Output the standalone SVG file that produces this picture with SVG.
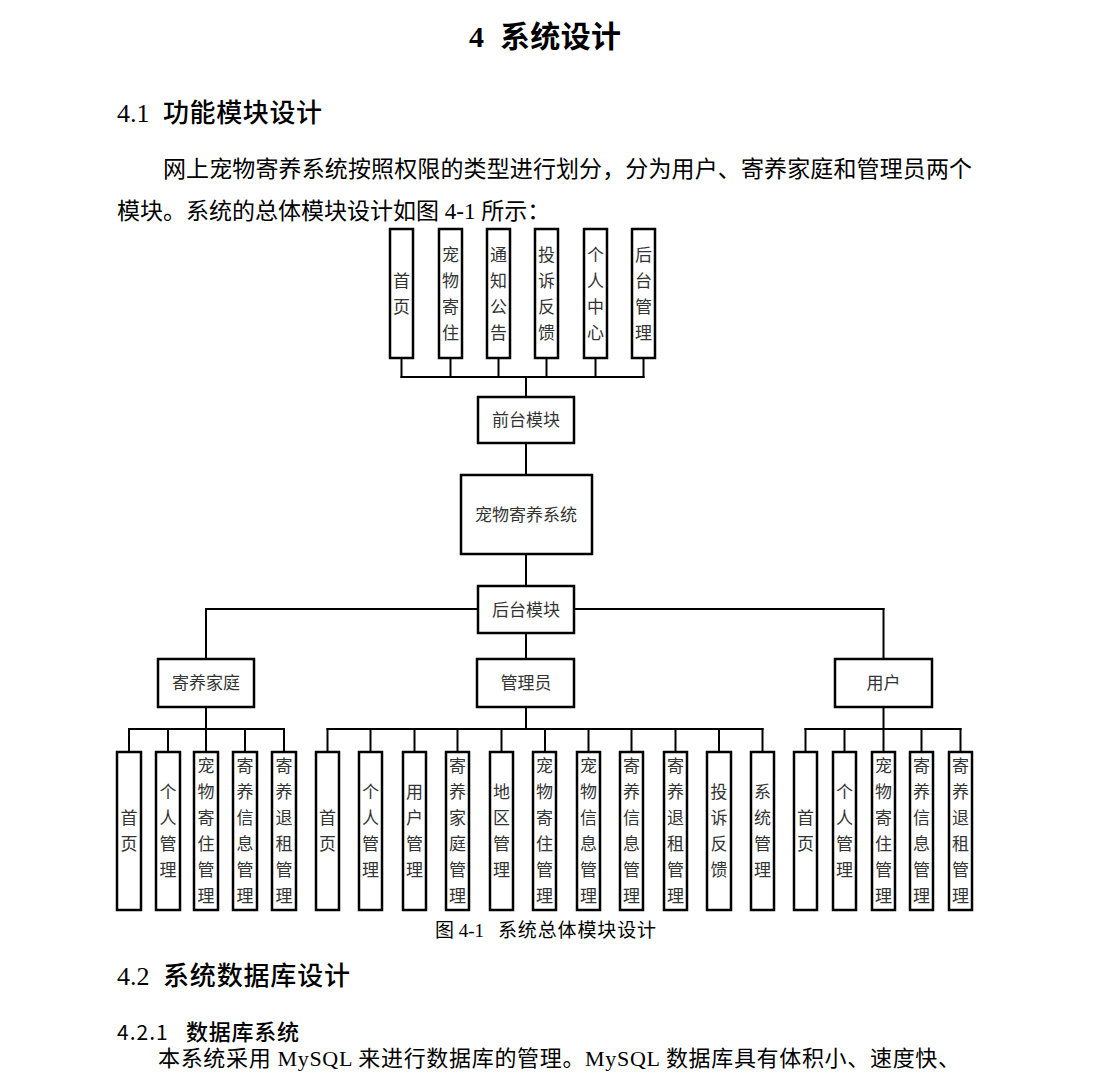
<svg xmlns="http://www.w3.org/2000/svg" width="1094" height="1084" viewBox="0 0 1094 1084">
<style>
.box{fill:#fff;stroke:#000;stroke-width:2.5}
.lbl{font-family:"Noto Sans CJK SC","Noto Sans",sans-serif;font-size:17px;fill:#333;text-anchor:middle}
.conn line{stroke:#000;stroke-width:2;stroke-linecap:square}
.doc{font-family:"Liberation Serif","Noto Sans CJK SC",serif;fill:#000}
.hei{font-family:"Noto Sans CJK SC",sans-serif;fill:#000}
</style>
<rect width="1094" height="1084" fill="#fff"/>

<!-- document text -->
<g id="doc-text">
<text class="doc" x="469" y="47" font-size="30" font-weight="bold">4</text>
<text class="hei" x="500" y="47" font-size="30" font-weight="bold" textLength="121">系统设计</text>
<text class="doc" x="117" y="122" font-size="26">4.1</text>
<text class="hei" x="163" y="122" font-size="26" font-weight="500" textLength="159">功能模块设计</text>
<text class="doc" x="163" y="177" font-size="23" textLength="809">网上宠物寄养系统按照权限的类型进行划分，分为用户、寄养家庭和管理员两个</text>
<text class="doc" x="117" y="219" font-size="23">模块。系统的总体模块设计如图 4-1 所示：</text>
<text class="doc" x="435" y="937" font-size="19">图 4-1</text>
<text class="doc" x="498" y="937" font-size="19" textLength="158">系统总体模块设计</text>
<text class="doc" x="117" y="985" font-size="26">4.2</text>
<text class="hei" x="163" y="985" font-size="26" font-weight="500" textLength="187">系统数据库设计</text>
<text class="hei" x="117" y="1040" font-size="21" letter-spacing="1">4.2.1</text>
<text class="hei" x="186" y="1040" font-size="22" font-weight="500" textLength="113">数据库系统</text>
<text class="doc" x="158" y="1066" font-size="22" textLength="802">本系统采用 MySQL 来进行数据库的管理。MySQL 数据库具有体积小、速度快、</text>
</g>

<!-- connectors -->
<g id="connectors" class="conn">
<line x1="401.5" y1="358" x2="401.5" y2="377"/>
<line x1="450.5" y1="358" x2="450.5" y2="377"/>
<line x1="498.5" y1="358" x2="498.5" y2="377"/>
<line x1="546.5" y1="358" x2="546.5" y2="377"/>
<line x1="595.5" y1="358" x2="595.5" y2="377"/>
<line x1="643.5" y1="358" x2="643.5" y2="377"/>
<line x1="401.5" y1="377" x2="643.5" y2="377"/>
<line x1="526" y1="377" x2="526" y2="397"/>
<line x1="526" y1="443" x2="526" y2="475"/>
<line x1="526" y1="554" x2="526" y2="586"/>
<line x1="206" y1="609" x2="478" y2="609"/>
<line x1="574" y1="609" x2="883.5" y2="609"/>
<line x1="206" y1="609" x2="206" y2="659"/>
<line x1="883.5" y1="609" x2="883.5" y2="659"/>
<line x1="526" y1="633" x2="526" y2="659"/>
<line x1="206" y1="707" x2="206" y2="729"/>
<line x1="129" y1="729" x2="284" y2="729"/>
<line x1="129" y1="729" x2="129" y2="752"/>
<line x1="168" y1="729" x2="168" y2="752"/>
<line x1="206" y1="729" x2="206" y2="752"/>
<line x1="245" y1="729" x2="245" y2="752"/>
<line x1="284" y1="729" x2="284" y2="752"/>
<line x1="526" y1="707" x2="526" y2="729"/>
<line x1="327.5" y1="729" x2="762.5" y2="729"/>
<line x1="327.5" y1="729" x2="327.5" y2="752"/>
<line x1="370.5" y1="729" x2="370.5" y2="752"/>
<line x1="414.5" y1="729" x2="414.5" y2="752"/>
<line x1="457.5" y1="729" x2="457.5" y2="752"/>
<line x1="501.5" y1="729" x2="501.5" y2="752"/>
<line x1="545" y1="729" x2="545" y2="752"/>
<line x1="588.5" y1="729" x2="588.5" y2="752"/>
<line x1="631.5" y1="729" x2="631.5" y2="752"/>
<line x1="675.5" y1="729" x2="675.5" y2="752"/>
<line x1="719" y1="729" x2="719" y2="752"/>
<line x1="762.5" y1="729" x2="762.5" y2="752"/>
<line x1="883.5" y1="707" x2="883.5" y2="729"/>
<line x1="805.5" y1="729" x2="960.5" y2="729"/>
<line x1="805.5" y1="729" x2="805.5" y2="752"/>
<line x1="844.5" y1="729" x2="844.5" y2="752"/>
<line x1="883.5" y1="729" x2="883.5" y2="752"/>
<line x1="921.5" y1="729" x2="921.5" y2="752"/>
<line x1="960.5" y1="729" x2="960.5" y2="752"/>
</g>

<!-- top leaves -->
<g id="top-home"><rect class="box" x="390" y="229" width="23" height="129"/><text class="lbl"><tspan x="401.5" y="286.5">首</tspan><tspan x="401.5" dy="26">页</tspan></text></g>
<g id="top-boarding"><rect class="box" x="439" y="229" width="23" height="129"/><text class="lbl"><tspan x="450.5" y="260.5">宠</tspan><tspan x="450.5" dy="26">物</tspan><tspan x="450.5" dy="26">寄</tspan><tspan x="450.5" dy="26">住</tspan></text></g>
<g id="top-notice"><rect class="box" x="487" y="229" width="23" height="129"/><text class="lbl"><tspan x="498.5" y="260.5">通</tspan><tspan x="498.5" dy="26">知</tspan><tspan x="498.5" dy="26">公</tspan><tspan x="498.5" dy="26">告</tspan></text></g>
<g id="top-feedback"><rect class="box" x="535" y="229" width="23" height="129"/><text class="lbl"><tspan x="546.5" y="260.5">投</tspan><tspan x="546.5" dy="26">诉</tspan><tspan x="546.5" dy="26">反</tspan><tspan x="546.5" dy="26">馈</tspan></text></g>
<g id="top-personal"><rect class="box" x="584" y="229" width="23" height="129"/><text class="lbl"><tspan x="595.5" y="260.5">个</tspan><tspan x="595.5" dy="26">人</tspan><tspan x="595.5" dy="26">中</tspan><tspan x="595.5" dy="26">心</tspan></text></g>
<g id="top-admin"><rect class="box" x="632" y="229" width="23" height="129"/><text class="lbl"><tspan x="643.5" y="260.5">后</tspan><tspan x="643.5" dy="26">台</tspan><tspan x="643.5" dy="26">管</tspan><tspan x="643.5" dy="26">理</tspan></text></g>

<!-- middle -->
<g id="frontend"><rect class="box" x="478" y="397" width="96" height="46"/><text class="lbl" x="526" y="426">前台模块</text></g>
<g id="system"><rect class="box" x="461" y="475" width="131" height="79"/><text class="lbl" x="526" y="520.5">宠物寄养系统</text></g>
<g id="backend"><rect class="box" x="478" y="586" width="96" height="47"/><text class="lbl" x="526" y="615.5">后台模块</text></g>
<g id="family"><rect class="box" x="158" y="659" width="96" height="48"/><text class="lbl" x="206" y="689">寄养家庭</text></g>
<g id="manager"><rect class="box" x="477" y="659" width="97" height="48"/><text class="lbl" x="526" y="689">管理员</text></g>
<g id="user"><rect class="box" x="835" y="659" width="97" height="48"/><text class="lbl" x="883.5" y="689">用户</text></g>

<!-- family leaves -->
<g id="f-home"><rect class="box" x="117" y="752" width="24" height="158"/><text class="lbl"><tspan x="129" y="824">首</tspan><tspan x="129" dy="26">页</tspan></text></g>
<g id="f-personal"><rect class="box" x="156" y="752" width="24" height="158"/><text class="lbl"><tspan x="168" y="798">个</tspan><tspan x="168" dy="26">人</tspan><tspan x="168" dy="26">管</tspan><tspan x="168" dy="26">理</tspan></text></g>
<g id="f-boarding"><rect class="box" x="194" y="752" width="24" height="158"/><text class="lbl"><tspan x="206" y="772">宠</tspan><tspan x="206" dy="26">物</tspan><tspan x="206" dy="26">寄</tspan><tspan x="206" dy="26">住</tspan><tspan x="206" dy="26">管</tspan><tspan x="206" dy="26">理</tspan></text></g>
<g id="f-info"><rect class="box" x="233" y="752" width="24" height="158"/><text class="lbl"><tspan x="245" y="772">寄</tspan><tspan x="245" dy="26">养</tspan><tspan x="245" dy="26">信</tspan><tspan x="245" dy="26">息</tspan><tspan x="245" dy="26">管</tspan><tspan x="245" dy="26">理</tspan></text></g>
<g id="f-refund"><rect class="box" x="272" y="752" width="24" height="158"/><text class="lbl"><tspan x="284" y="772">寄</tspan><tspan x="284" dy="26">养</tspan><tspan x="284" dy="26">退</tspan><tspan x="284" dy="26">租</tspan><tspan x="284" dy="26">管</tspan><tspan x="284" dy="26">理</tspan></text></g>

<!-- manager leaves -->
<g id="m-home"><rect class="box" x="316" y="752" width="23" height="158"/><text class="lbl"><tspan x="327.5" y="824">首</tspan><tspan x="327.5" dy="26">页</tspan></text></g>
<g id="m-personal"><rect class="box" x="359" y="752" width="23" height="158"/><text class="lbl"><tspan x="370.5" y="798">个</tspan><tspan x="370.5" dy="26">人</tspan><tspan x="370.5" dy="26">管</tspan><tspan x="370.5" dy="26">理</tspan></text></g>
<g id="m-user"><rect class="box" x="403" y="752" width="23" height="158"/><text class="lbl"><tspan x="414.5" y="798">用</tspan><tspan x="414.5" dy="26">户</tspan><tspan x="414.5" dy="26">管</tspan><tspan x="414.5" dy="26">理</tspan></text></g>
<g id="m-family"><rect class="box" x="446" y="752" width="23" height="158"/><text class="lbl"><tspan x="457.5" y="772">寄</tspan><tspan x="457.5" dy="26">养</tspan><tspan x="457.5" dy="26">家</tspan><tspan x="457.5" dy="26">庭</tspan><tspan x="457.5" dy="26">管</tspan><tspan x="457.5" dy="26">理</tspan></text></g>
<g id="m-region"><rect class="box" x="490" y="752" width="23" height="158"/><text class="lbl"><tspan x="501.5" y="798">地</tspan><tspan x="501.5" dy="26">区</tspan><tspan x="501.5" dy="26">管</tspan><tspan x="501.5" dy="26">理</tspan></text></g>
<g id="m-boarding"><rect class="box" x="533" y="752" width="23" height="158"/><text class="lbl"><tspan x="544.5" y="772">宠</tspan><tspan x="544.5" dy="26">物</tspan><tspan x="544.5" dy="26">寄</tspan><tspan x="544.5" dy="26">住</tspan><tspan x="544.5" dy="26">管</tspan><tspan x="544.5" dy="26">理</tspan></text></g>
<g id="m-petinfo"><rect class="box" x="577" y="752" width="23" height="158"/><text class="lbl"><tspan x="588.5" y="772">宠</tspan><tspan x="588.5" dy="26">物</tspan><tspan x="588.5" dy="26">信</tspan><tspan x="588.5" dy="26">息</tspan><tspan x="588.5" dy="26">管</tspan><tspan x="588.5" dy="26">理</tspan></text></g>
<g id="m-info"><rect class="box" x="620" y="752" width="23" height="158"/><text class="lbl"><tspan x="631.5" y="772">寄</tspan><tspan x="631.5" dy="26">养</tspan><tspan x="631.5" dy="26">信</tspan><tspan x="631.5" dy="26">息</tspan><tspan x="631.5" dy="26">管</tspan><tspan x="631.5" dy="26">理</tspan></text></g>
<g id="m-refund"><rect class="box" x="664" y="752" width="23" height="158"/><text class="lbl"><tspan x="675.5" y="772">寄</tspan><tspan x="675.5" dy="26">养</tspan><tspan x="675.5" dy="26">退</tspan><tspan x="675.5" dy="26">租</tspan><tspan x="675.5" dy="26">管</tspan><tspan x="675.5" dy="26">理</tspan></text></g>
<g id="m-feedback"><rect class="box" x="707" y="752" width="24" height="158"/><text class="lbl"><tspan x="719" y="798">投</tspan><tspan x="719" dy="26">诉</tspan><tspan x="719" dy="26">反</tspan><tspan x="719" dy="26">馈</tspan></text></g>
<g id="m-system"><rect class="box" x="751" y="752" width="23" height="158"/><text class="lbl"><tspan x="762.5" y="798">系</tspan><tspan x="762.5" dy="26">统</tspan><tspan x="762.5" dy="26">管</tspan><tspan x="762.5" dy="26">理</tspan></text></g>

<!-- user leaves -->
<g id="u-home"><rect class="box" x="794" y="752" width="23" height="158"/><text class="lbl"><tspan x="805.5" y="824">首</tspan><tspan x="805.5" dy="26">页</tspan></text></g>
<g id="u-personal"><rect class="box" x="833" y="752" width="23" height="158"/><text class="lbl"><tspan x="844.5" y="798">个</tspan><tspan x="844.5" dy="26">人</tspan><tspan x="844.5" dy="26">管</tspan><tspan x="844.5" dy="26">理</tspan></text></g>
<g id="u-boarding"><rect class="box" x="872" y="752" width="23" height="158"/><text class="lbl"><tspan x="883.5" y="772">宠</tspan><tspan x="883.5" dy="26">物</tspan><tspan x="883.5" dy="26">寄</tspan><tspan x="883.5" dy="26">住</tspan><tspan x="883.5" dy="26">管</tspan><tspan x="883.5" dy="26">理</tspan></text></g>
<g id="u-info"><rect class="box" x="910" y="752" width="23" height="158"/><text class="lbl"><tspan x="921.5" y="772">寄</tspan><tspan x="921.5" dy="26">养</tspan><tspan x="921.5" dy="26">信</tspan><tspan x="921.5" dy="26">息</tspan><tspan x="921.5" dy="26">管</tspan><tspan x="921.5" dy="26">理</tspan></text></g>
<g id="u-refund"><rect class="box" x="949" y="752" width="23" height="158"/><text class="lbl"><tspan x="960.5" y="772">寄</tspan><tspan x="960.5" dy="26">养</tspan><tspan x="960.5" dy="26">退</tspan><tspan x="960.5" dy="26">租</tspan><tspan x="960.5" dy="26">管</tspan><tspan x="960.5" dy="26">理</tspan></text></g>
</svg>
